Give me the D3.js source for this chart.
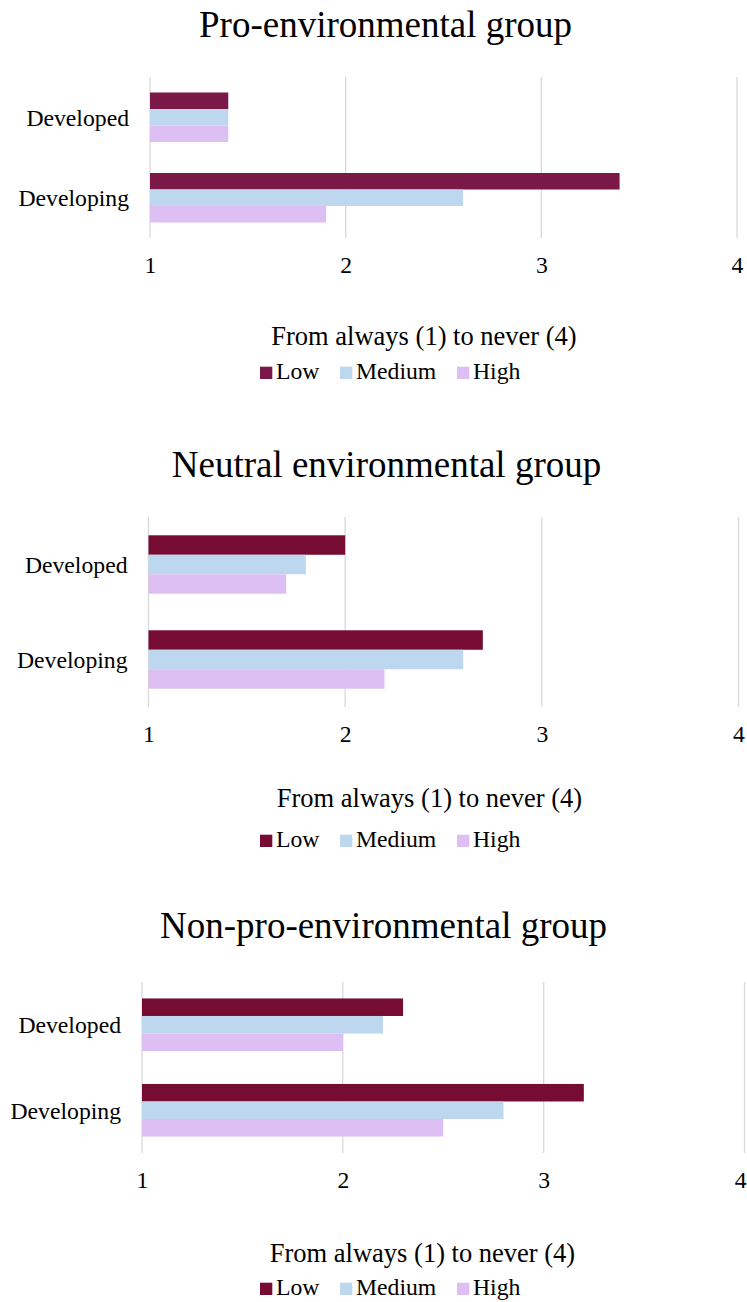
<!DOCTYPE html>
<html>
<head>
<meta charset="utf-8">
<script src="https://cdn.jsdelivr.net/npm/d3@7"></script>
<style>
  html, body { margin: 0; padding: 0; background: #fff; }
  svg { display: block; }
  text { font-family: "Liberation Serif", "Times New Roman", serif; fill: #000; }
</style>
</head>
<body>
<svg id="chart" width="747" height="1302"></svg>
<script>
// ---- data ----
const categories = ["Developed", "Developing"];
const seriesNames = ["Low", "Medium", "High"];
const tickValues = [1, 2, 3, 4];
const axisTitle = "From always (1) to never (4)";
const panelTitles = ["Pro-environmental group", "Neutral environmental group", "Non-pro-environmental group"];

// values per series, ordered as categories
const proLow = [1.4, 3.4];
const proMedium = [1.4, 2.6];
const proHigh = [1.4, 1.9];

const neutralLow = [2.0, 2.7];
const neutralMedium = [1.8, 2.6];
const neutralHigh = [1.7, 2.2];

const nonProLow = [2.3, 3.2];
const nonProMedium = [2.2, 2.8];
const nonProHigh = [2.0, 2.5];

// ---- layout & style ----
const W = 747;
const mediumColor = "#BDD7EE";
const highColor = "#DDBFF4";
const panels = [
  { title: panelTitles[0], values: [proLow, proMedium, proHigh], lowColor: "#7A1848",
    titleX: 385.5, titleY: 37, x0: 150, x1: 737, top: 77, bottom: 238,
    axisTitleX: 424, axisTitleY: 345, legendY: 379 },
  { title: panelTitles[1], values: [neutralLow, neutralMedium, neutralHigh], lowColor: "#760C32",
    titleX: 386.5, titleY: 477, x0: 148.5, x1: 738.5, top: 517, bottom: 707,
    axisTitleX: 429.5, axisTitleY: 807, legendY: 847 },
  { title: panelTitles[2], values: [nonProLow, nonProMedium, nonProHigh], lowColor: "#760C32",
    titleX: 383.5, titleY: 938, x0: 142, x1: 744.5, top: 982, bottom: 1153,
    axisTitleX: 422.5, axisTitleY: 1262, legendY: 1295 }
];
const legendSwatchX = [260, 340, 457];
const swatch = 12.3;
const labelSize = 23.7;

const svg = d3.select("#chart");

panels.forEach(p => {
  const g = svg.append("g");
  const colors = [p.lowColor, mediumColor, highColor];

  const x = d3.scaleLinear().domain([1, 4]).range([p.x0, p.x1]);
  const y = d3.scaleBand().domain(categories).range([p.top, p.bottom])
    .paddingInner(0.385).paddingOuter(0.1925);
  const ySub = d3.scaleBand().domain(seriesNames).range([0, y.bandwidth()]);

  // title
  g.append("text")
    .attr("x", p.titleX).attr("y", p.titleY)
    .attr("text-anchor", "middle")
    .style("font-size", "37px")
    .text(p.title);

  // vertical gridlines
  g.append("g").selectAll("line")
    .data(tickValues)
    .join("line")
    .attr("x1", d => x(d)).attr("x2", d => x(d))
    .attr("y1", p.top).attr("y2", p.bottom)
    .attr("stroke", "#D9D9D9")
    .attr("stroke-width", 1.3);

  // bars
  const groups = g.append("g").selectAll("g")
    .data(categories)
    .join("g")
    .attr("transform", c => `translate(0,${y(c)})`);

  groups.selectAll("rect")
    .data((c, ci) => seriesNames.map((s, si) => ({ s, si, v: p.values[si][ci] })))
    .join("rect")
    .attr("x", x(1))
    .attr("y", d => ySub(d.s))
    .attr("width", d => x(d.v) - x(1))
    .attr("height", ySub.bandwidth())
    .attr("fill", d => colors[d.si]);

  // category labels
  g.append("g").selectAll("text")
    .data(categories)
    .join("text")
    .attr("x", p.x0 - 21)
    .attr("y", c => y(c) + y.bandwidth() / 2)
    .attr("dy", "0.35em")
    .attr("text-anchor", "end")
    .style("font-size", labelSize + "px")
    .text(c => c);

  // x axis tick labels
  const axis = g.append("g")
    .attr("transform", `translate(0,${p.bottom})`)
    .attr("font-family", null)
    .call(d3.axisBottom(x).tickValues(tickValues).tickFormat(d3.format("d")).tickSize(0).tickPadding(0));
  axis.select(".domain").remove();
  axis.selectAll("text")
    .attr("y", 35).attr("dy", 0)
    .style("font-size", labelSize + "px")
    .style("font-family", "'Liberation Serif', 'Times New Roman', serif")
    .attr("fill", "#000")
    .each(function (d) {
      // keep the right-most label inside the page
      const w = this.getComputedTextLength();
      const over = x(d) + w / 2 - (W - 1);
      if (over > 0) d3.select(this).attr("x", -over);
    });

  // axis title
  g.append("text")
    .attr("x", p.axisTitleX).attr("y", p.axisTitleY)
    .attr("text-anchor", "middle")
    .style("font-size", "26.5px")
    .text(axisTitle);

  // legend
  const leg = g.append("g").selectAll("g")
    .data(seriesNames)
    .join("g")
    .attr("transform", (d, i) => `translate(${legendSwatchX[i]},${p.legendY})`);
  leg.append("rect")
    .attr("x", 0).attr("y", -swatch)
    .attr("width", swatch).attr("height", swatch)
    .attr("fill", (d, i) => colors[i]);
  leg.append("text")
    .attr("x", swatch + 3.7).attr("y", 0)
    .style("font-size", labelSize + "px")
    .text(d => d);
});
</script>
</body>
</html>
